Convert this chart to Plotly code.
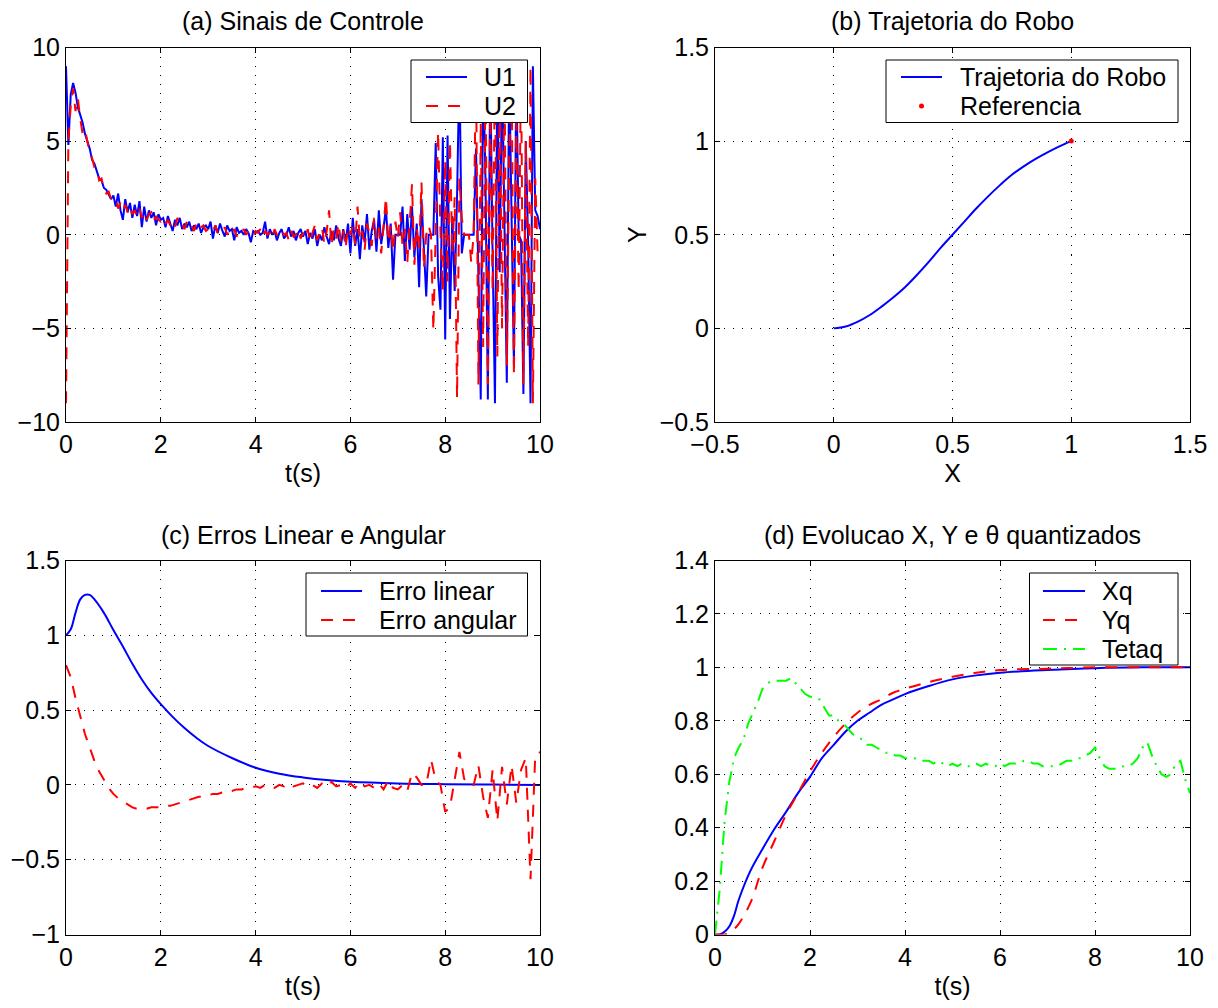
import numpy as np
import plotly.graph_objects as go

# ---- data ----
# (a) control signals, sampled every 0.05 s
t_a = np.round(np.arange(0, 10.0001, 0.05), 2)
u1 = [9.0, 4.8, 7.5, 8.1, 7.6, 6.8, 6.4, 6.0, 5.4, 5.0, 4.6, 4.0, 3.8, 3.4, 3.0, 2.9, 2.5, 2.4, 2.1, 1.9, 2.1,
      1.5, 2.2, 1.3, 0.8, 1.9, 1.2, 1.7, 0.9, 1.6, 1.0, 1.8, 0.4, 1.5, 0.7, 1.3, 0.9, 1.2, 0.5, 1.1, 0.8,
      0.9, 0.4, 1.0, 0.6, 0.2, 0.8, 0.5, 0.9, 0.3, 0.6, 0.4, 0.7, 0.2, 0.5, 0.3, 0.6, 0.1, 0.4, 0.5, 0.3,
      0.7, -0.2, 0.5, 0.1, 0.6, 0.2, -0.1, 0.5, 0.2, 0.3, -0.3, 0.4, 0.1, 0.2, 0.0, 0.3, 0.1, -0.4, 0.2, 0.1,
      0.2, 0.0, 0.1, 0.7, -0.2, 0.3, 0.0, 0.2, -0.3, 0.1, 0.3, -0.2, 0.0, 0.4, -0.1, 0.2, -0.3, 0.1, 0.3, -0.1,
      0.2, -0.5, 0.1, -0.2, 0.3, -0.6, 0.0, -0.3, 0.4, -0.1, -0.5, 0.2, -0.3, 0.5, -0.2, -0.6, 0.3, -0.4, 0.6, -1.0,
      0.9, -0.6, 0.3, -1.3, 0.5, -0.4, 1.1, -0.8, 0.2, 0.8, -0.9, 1.3, -0.5, 0.4, 1.4, -0.7, 0.6, -2.4, 0.0, 0.0,
      0.0, 1.5, -1.4, 1.1, -0.8, 1.5, -1.2, 0.6, -2.8, 1.9, -1.0, -3.3, 0.0, 0.0, 0.0, 4.9, -2.2, -4.0, 5.2, -5.6,
      5.3, -4.5, 1.0, -3.0, 2.0, 9.0, -1.0, 0.0, 0.0, 0.0, 0.0, 0.0, 4.6, -2.0, -8.8, 9.0, 3.0, -8.8, 9.0, -1.0,
      -9.0, 9.0, -2.0, 9.0, 0.0, -7.9, 9.0, -0.5, -7.0, 9.0, 0.0, -0.3, -8.5, 5.0, -0.5, -9.0, 9.0, 1.3, 1.0, 0.3]
u2 = [-9.0, 5.0, 6.9, 7.8, 6.6, 7.3, 6.2, 5.4, 5.6, 4.9, 4.4, 4.1, 3.6, 3.5, 2.9, 3.0, 2.4, 2.2, 2.3, 1.9, 1.8,
      1.9, 1.4, 1.7, 1.3, 1.6, 1.2, 1.5, 1.1, 1.3, 1.0, 1.4, 0.9, 1.2, 0.8, 1.1, 1.2, 0.7, 1.0, 0.8, 0.7,
      0.9, 0.6, 0.8, 0.5, 0.7, 0.4, 0.9, 0.5, 0.6, 0.3, 0.7, 0.4, 0.5, 0.2, 0.6, 0.3, 0.4, 0.5, 0.2, 0.3,
      0.4, 0.2, 0.5, 0.1, 0.3, 0.2, 0.4, 0.0, 0.3, 0.1, 0.3, -0.1, 0.2, 0.1, 0.3, 0.0, 0.2, 0.1, -0.1, 0.2,
      0.1, 0.3, -0.1, 0.2, 0.0, 0.1, -0.2, 0.3, 0.0, -0.1, 0.2, 0.0, 0.1, -0.3, 0.2, -0.1, 0.0, 0.3, -0.2, 0.1,
      -0.2, 0.3, -0.4, 0.1, 0.5, -0.3, 0.0, 0.4, -0.5, 0.2, 1.3, -0.6, 0.3, -0.2, 0.6, -0.4, 0.2, -0.7, 0.4, 0.0,
      0.5, -0.5, 1.5, -0.3, 0.2, -0.8, 0.6, 0.1, -0.6, 0.9, -0.2, 0.4, -1.0, 0.3, 2.0, -0.4, 0.5, -0.9, 0.7, -0.2,
      1.2, -0.6, 0.3, -1.5, 0.9, 2.7, -1.6, 0.4, -0.8, 2.8, -1.8, 0.0, 0.5, 0.0, -5.1, 1.0, 5.5, 0.2, -3.0, 4.0,
      -2.5, 5.0, -1.0, 2.0, -8.7, 3.0, 0.9, 0.0, 0.0, 0.0, -1.5, 0.0, 9.0, -8.0, 6.0, -6.0, 9.0, -8.0, 7.0, -3.0,
      9.0, -6.5, 8.0, -5.0, 9.0, -7.0, 4.0, 9.0, -7.5, 6.0, -3.0, 9.0, -8.0, 5.0, -6.0, 9.0, -9.0, 3.0, -1.0, -0.8]

# (b) robot trajectory
traj_x = [0, 0.05, 0.1, 0.15, 0.2, 0.25, 0.3, 0.35, 0.4, 0.45, 0.5, 0.55, 0.6, 0.65, 0.7, 0.75, 0.8, 0.85, 0.9, 0.95, 1.0]
traj_y = [0, 0.01, 0.035, 0.07, 0.115, 0.165, 0.22, 0.285, 0.355, 0.43, 0.5, 0.57, 0.64, 0.705, 0.765, 0.82,
          0.865, 0.905, 0.94, 0.972, 1.0]
ref_x = [1.0]
ref_y = [1.0]

# (c) errors
t_lin = [0, 0.1, 0.2, 0.3, 0.4, 0.5, 0.6, 0.8, 1.0, 1.2, 1.4, 1.6, 1.8, 2.0, 2.25, 2.5, 2.75, 3.0,
         3.5, 4.0, 4.5, 5.0, 5.5, 6.0, 7.0, 8.0, 9.0, 10.0]
erro_lin = [1.0, 1.04, 1.15, 1.24, 1.27, 1.27, 1.24, 1.15, 1.035, 0.925, 0.81, 0.705, 0.615, 0.54, 0.455, 0.38,
            0.315, 0.26, 0.18, 0.115, 0.075, 0.05, 0.032, 0.021, 0.01, 0.005, 0.002, 0.0]
t_c = np.round(np.arange(0, 10.0001, 0.1), 1)
erro_ang = [0.80, 0.72, 0.58, 0.46, 0.34, 0.25, 0.16, 0.09, 0.03, -0.02,
            -0.06, -0.09, -0.11, -0.13, -0.15, -0.16, -0.16, -0.16, -0.15, -0.15,
            -0.15, -0.14, -0.14, -0.13, -0.12, -0.11, -0.10, -0.09, -0.08, -0.08,
            -0.07, -0.06, -0.06, -0.05, -0.04, -0.04, -0.03, -0.03, -0.02, -0.02,
            -0.01, -0.02, 0.0, -0.01, -0.02, 0.0, -0.01, 0.01, -0.01, 0.0,
            0.01, -0.01, 0.0, -0.02, 0.01, -0.01, 0.02, -0.01, 0.0, -0.02,
            0.01, -0.02, 0.02, -0.01, 0.0, -0.02, 0.01, -0.03, 0.03, -0.02,
            -0.03, 0.0, -0.04, 0.08, 0.05, 0.0, 0.0, 0.17, 0.03, 0.0,
            -0.18, -0.15, 0.05, 0.22, 0.04, 0.0, 0.0, 0.13, -0.08, -0.22,
            0.1, -0.24, 0.12, -0.13, 0.13, -0.12, 0.1, 0.18, -0.63, 0.2, 0.22]

# (d) quantized states
t_q = [0, 0.1, 0.2, 0.3, 0.4, 0.5, 0.75, 1.0, 1.25, 1.5, 1.75, 2.0, 2.25, 2.5, 2.75, 3.0, 3.25, 3.5,
       3.75, 4.0, 4.5, 5.0, 5.5, 6.0, 7.0, 8.0, 9.0, 10.0]
xq = [0, 0.0, 0.01, 0.03, 0.07, 0.13, 0.24, 0.32, 0.395, 0.46, 0.53, 0.59, 0.66, 0.71, 0.76, 0.80, 0.83,
      0.86, 0.88, 0.90, 0.93, 0.955, 0.97, 0.98, 0.99, 0.997, 1.0, 1.0]
yq = [0, 0, 0, 0.005, 0.02, 0.04, 0.12, 0.25, 0.35, 0.45, 0.53, 0.61, 0.68, 0.74, 0.79, 0.83, 0.86,
      0.88, 0.905, 0.92, 0.945, 0.965, 0.98, 0.99, 0.995, 1.0, 1.0, 1.0]
t_teta = np.round(np.arange(0, 10.0001, 0.1), 1)
tetaq = [0.0, 0.17, 0.42, 0.57, 0.66, 0.70, 0.73, 0.79, 0.83, 0.87,
         0.92, 0.94, 0.95, 0.95, 0.95, 0.95, 0.96, 0.94, 0.92, 0.90,
         0.89, 0.89, 0.88, 0.85, 0.82, 0.82, 0.80, 0.79, 0.77, 0.75,
         0.74, 0.73, 0.71, 0.71, 0.70, 0.69, 0.68, 0.68, 0.67, 0.67,
         0.66, 0.66, 0.66, 0.65, 0.65, 0.65, 0.64, 0.65, 0.64, 0.63,
         0.64, 0.63, 0.64, 0.63, 0.63, 0.64, 0.63, 0.64, 0.63, 0.63,
         0.64, 0.63, 0.64, 0.64, 0.64, 0.65, 0.65, 0.64, 0.64, 0.63,
         0.63, 0.63, 0.63, 0.64, 0.65, 0.65, 0.66, 0.66, 0.67, 0.68,
         0.70, 0.66, 0.63, 0.62, 0.62, 0.62, 0.63, 0.63, 0.64, 0.66,
         0.70, 0.72, 0.67, 0.63, 0.60, 0.59, 0.60, 0.64, 0.65, 0.58, 0.53]

# ---- styling ----
FONT = "Liberation Sans, Arial, Helvetica, sans-serif"
FS = 25
OFF = 8                      # page body margin
W, H = 1218 - OFF, 1008 - OFF
BLUE, RED, GREEN = "rgb(0,0,255)", "rgb(255,0,0)", "rgb(0,255,0)"
DASH = "12px,10px"
DASHDOT = "14px,7px,2px,7px"


def px(x):
    return (x - OFF) / W


def py(y):
    return 1 - (y - OFF) / H


# panel boxes in screen pixels: (left, top, right, bottom)
boxes = {
    "a": (66, 47.5, 540, 422),
    "b": (715, 47.5, 1190, 422),
    "c": (66, 560.5, 540, 934.5),
    "d": (715, 560.5, 1190, 934.5),
}

fig = go.Figure()

fig.add_trace(go.Scatter(x=t_a, y=u1, mode="lines", name="U1", line=dict(color=BLUE, width=2),
                         xaxis="x", yaxis="y"))
fig.add_trace(go.Scatter(x=t_a, y=u2, mode="lines", name="U2", line=dict(color=RED, width=2, dash=DASH),
                         xaxis="x", yaxis="y"))

fig.add_trace(go.Scatter(x=traj_x, y=traj_y, mode="lines", name="Trajetoria do Robo",
                         line=dict(color=BLUE, width=2, shape="spline"), xaxis="x2", yaxis="y2"))
fig.add_trace(go.Scatter(x=ref_x, y=ref_y, mode="markers", name="Referencia",
                         marker=dict(color=RED, size=5), xaxis="x2", yaxis="y2"))

fig.add_trace(go.Scatter(x=t_lin, y=erro_lin, mode="lines", name="Erro linear",
                         line=dict(color=BLUE, width=2, shape="spline"), xaxis="x3", yaxis="y3"))
fig.add_trace(go.Scatter(x=t_c, y=erro_ang, mode="lines", name="Erro angular",
                         line=dict(color=RED, width=2, dash=DASH), xaxis="x3", yaxis="y3"))

fig.add_trace(go.Scatter(x=t_q, y=xq, mode="lines", name="Xq",
                         line=dict(color=BLUE, width=2, shape="spline"), xaxis="x4", yaxis="y4"))
fig.add_trace(go.Scatter(x=t_q, y=yq, mode="lines", name="Yq",
                         line=dict(color=RED, width=2, dash=DASH, shape="spline"), xaxis="x4", yaxis="y4"))
fig.add_trace(go.Scatter(x=t_teta, y=tetaq, mode="lines", name="Tetaq",
                         line=dict(color=GREEN, width=2, dash=DASHDOT), xaxis="x4", yaxis="y4"))

axis_common = dict(
    showline=True, linecolor="black", linewidth=1, mirror="allticks",
    ticks="inside", ticklen=5, tickcolor="black", automargin=False,
    showgrid=True, gridcolor="black", gridwidth=1, griddash="1px,8px",
    zeroline=False, tickfont=dict(family=FONT, size=FS, color="black"),
    title_font=dict(family=FONT, size=FS, color="black"),
)

specs = {
    "a": dict(xr=[0, 10], xd=2, yr=[-10, 10], yd=5, xt="t(s)", yt=None),
    "b": dict(xr=[-0.5, 1.5], xd=0.5, yr=[-0.5, 1.5], yd=0.5, xt="X", yt="Y"),
    "c": dict(xr=[0, 10], xd=2, yr=[-1, 1.5], yd=0.5, xt="t(s)", yt=None),
    "d": dict(xr=[0, 10], xd=2, yr=[0, 1.4], yd=0.2, xt="t(s)", yt=None),
}
titles = {
    "a": "(a) Sinais de Controle",
    "b": "(b) Trajetoria do Robo",
    "c": "(c) Erros Linear e Angular",
    "d": "(d) Evolucao X, Y e θ quantizados",
}

# legends drawn like the MATLAB ones: box, sample, label (screen pixels)
legends = [
    dict(box=(411, 60, 527.5, 122.5), sx=(426, 467), tx=481.5,
         items=[("U1", BLUE, "solid", 77), ("U2", RED, DASH, 106)]),
    dict(box=(886, 60, 1178, 122.5), sx=(901, 942), tx=958,
         items=[("Trajetoria do Robo", BLUE, "solid", 77), ("Referencia", RED, "dot", 106)]),
    dict(box=(306, 573, 527.5, 636), sx=(321, 362), tx=377,
         items=[("Erro linear", BLUE, "solid", 591), ("Erro angular", RED, DASH, 620)]),
    dict(box=(1029.5, 573, 1178, 665), sx=(1043, 1085), tx=1100,
         items=[("Xq", BLUE, "solid", 591), ("Yq", RED, DASH, 620), ("Tetaq", GREEN, DASHDOT, 649)]),
]

layout = dict(width=W, height=H, margin=dict(l=0, r=0, t=0, b=0), autosize=False,
              paper_bgcolor="white", plot_bgcolor="white", showlegend=False,
              font=dict(family=FONT, size=FS, color="black"))
annotations = []
shapes = []
for i, key in enumerate(["a", "b", "c", "d"]):
    n = "" if i == 0 else str(i + 1)
    l, t, r, b = boxes[key]
    s = specs[key]
    xa = dict(axis_common, domain=[px(l), px(r)], range=s["xr"], dtick=s["xd"], tick0=0, anchor="y" + n)
    ya = dict(axis_common, domain=[py(b), py(t)], range=s["yr"], dtick=s["yd"], tick0=0, anchor="x" + n)
    xa["title"] = dict(text=s["xt"], standoff=7)
    if s["yt"]:
        ya["title"] = dict(text=s["yt"], standoff=5)
    layout["xaxis" + n] = xa
    layout["yaxis" + n] = ya
    annotations.append(dict(text=titles[key], x=px((l + r) / 2), y=py(t - 10),
                            xref="paper", yref="paper", xanchor="center", yanchor="bottom",
                            showarrow=False, font=dict(family=FONT, size=FS, color="black")))

for lg in legends:
    x0, y0, x1, y1 = lg["box"]
    shapes.append(dict(type="rect", xref="paper", yref="paper", x0=px(x0), x1=px(x1), y0=py(y1), y1=py(y0),
                       fillcolor="white", line=dict(color="black", width=1), layer="above"))
    for label, color, dash, yy in lg["items"]:
        if dash == "dot":
            cx = (lg["sx"][0] + lg["sx"][1]) / 2
            shapes.append(dict(type="circle", xref="paper", yref="paper",
                               x0=px(cx - 2.5), x1=px(cx + 2.5), y0=py(yy + 2.5), y1=py(yy - 2.5),
                               fillcolor=color, line=dict(color=color, width=0), layer="above"))
        else:
            shapes.append(dict(type="line", xref="paper", yref="paper",
                               x0=px(lg["sx"][0]), x1=px(lg["sx"][1]), y0=py(yy), y1=py(yy),
                               line=dict(color=color, width=2, dash=dash), layer="above"))
        annotations.append(dict(text=label, x=px(lg["tx"]), y=py(yy), xref="paper", yref="paper",
                                xanchor="left", yanchor="middle", showarrow=False,
                                font=dict(family=FONT, size=FS, color="black")))

layout["annotations"] = annotations
layout["shapes"] = shapes

fig.update_layout(**layout)
fig.write_html("out.html")
